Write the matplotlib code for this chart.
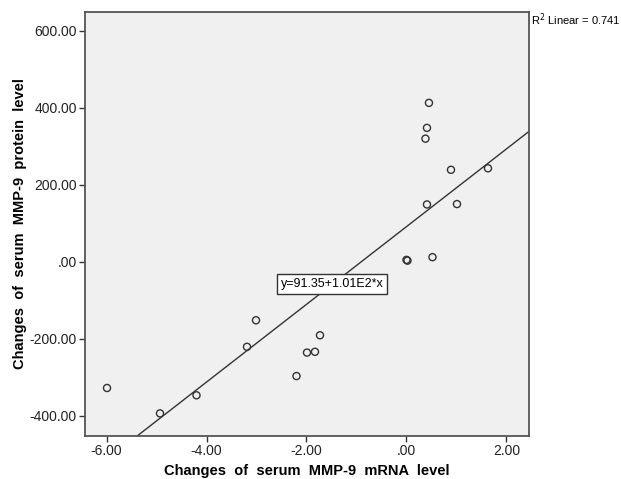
import matplotlib.pyplot as plt
import numpy as np
from matplotlib.ticker import FuncFormatter

plt.rcParams['font.family'] = ['Liberation Sans', 'DejaVu Sans']

# changes of serum MMP-9 mRNA level vs protein level
mrna = [0.45, 0.41, 0.38, 0.89, 1.63, 0.41, 1.01, 0.00, 0.02, 0.52,
        -5.99, -4.93, -4.20, -3.19, -3.01, -1.73, -1.99, -1.83, -2.20]
protein = [413, 348, 320, 239, 243, 149, 150, 5, 3, 12,
           -328, -394, -347, -221, -152, -191, -236, -234, -297]

intercept = 91.35
slope = 101.0
r2_text = "R$^2$ Linear = 0.741"
eq_text = "y=91.35+1.01E2*x"

x_ticks = [-6, -4, -2, 0, 2]
y_ticks = [-400, -200, 0, 200, 400, 600]
xlim = (-6.43, 2.45)
ylim = (-452, 650)


def spss_fmt(v, pos=None):
    s = "%.2f" % v
    if s.startswith("0."):
        s = s[1:]
    elif s.startswith("-0."):
        s = "-" + s[2:]
    return s


fig = plt.figure(figsize=(6.21, 4.79), dpi=100)
ax = fig.add_axes([0.1369, 0.0904, 0.8518 - 0.1369, 0.9756 - 0.0904])
ax.set_facecolor('#f0f0f0')

ax.scatter(mrna, protein, s=26, facecolors='none', edgecolors='#333333',
           linewidths=1.0, zorder=3)

xs = np.array(xlim)
ax.plot(xs, intercept + slope * xs, color='#333333', lw=1.0, zorder=2)

ax.set_xlim(*xlim)
ax.set_ylim(*ylim)
ax.set_xticks(x_ticks)
ax.set_yticks(y_ticks)
ax.xaxis.set_major_formatter(FuncFormatter(spss_fmt))
ax.yaxis.set_major_formatter(FuncFormatter(spss_fmt))
ax.tick_params(direction='out', length=4, width=1, color='#333333',
               labelsize=10, labelcolor='#222222', pad=2)

for sp in ax.spines.values():
    sp.set_color('#555555')
    sp.set_linewidth(1.3)

ax.set_xlabel("Changes  of  serum  MMP-9  mRNA  level", fontsize=10.5,
              fontweight='bold', labelpad=4)
ax.set_ylabel("Changes  of  serum  MMP-9  protein  level", fontsize=10.5,
              fontweight='bold', labelpad=2)

ax.text(-1.49, -58, eq_text, fontsize=9, ha='center', va='center',
        bbox=dict(boxstyle='square,pad=0.3', fc='white', ec='#333333', lw=1),
        zorder=4)

fig.text(531 / 621, 1 - 20 / 479, r2_text, fontsize=8, ha='left',
         va='center')

fig.savefig("out.png", dpi=100)
